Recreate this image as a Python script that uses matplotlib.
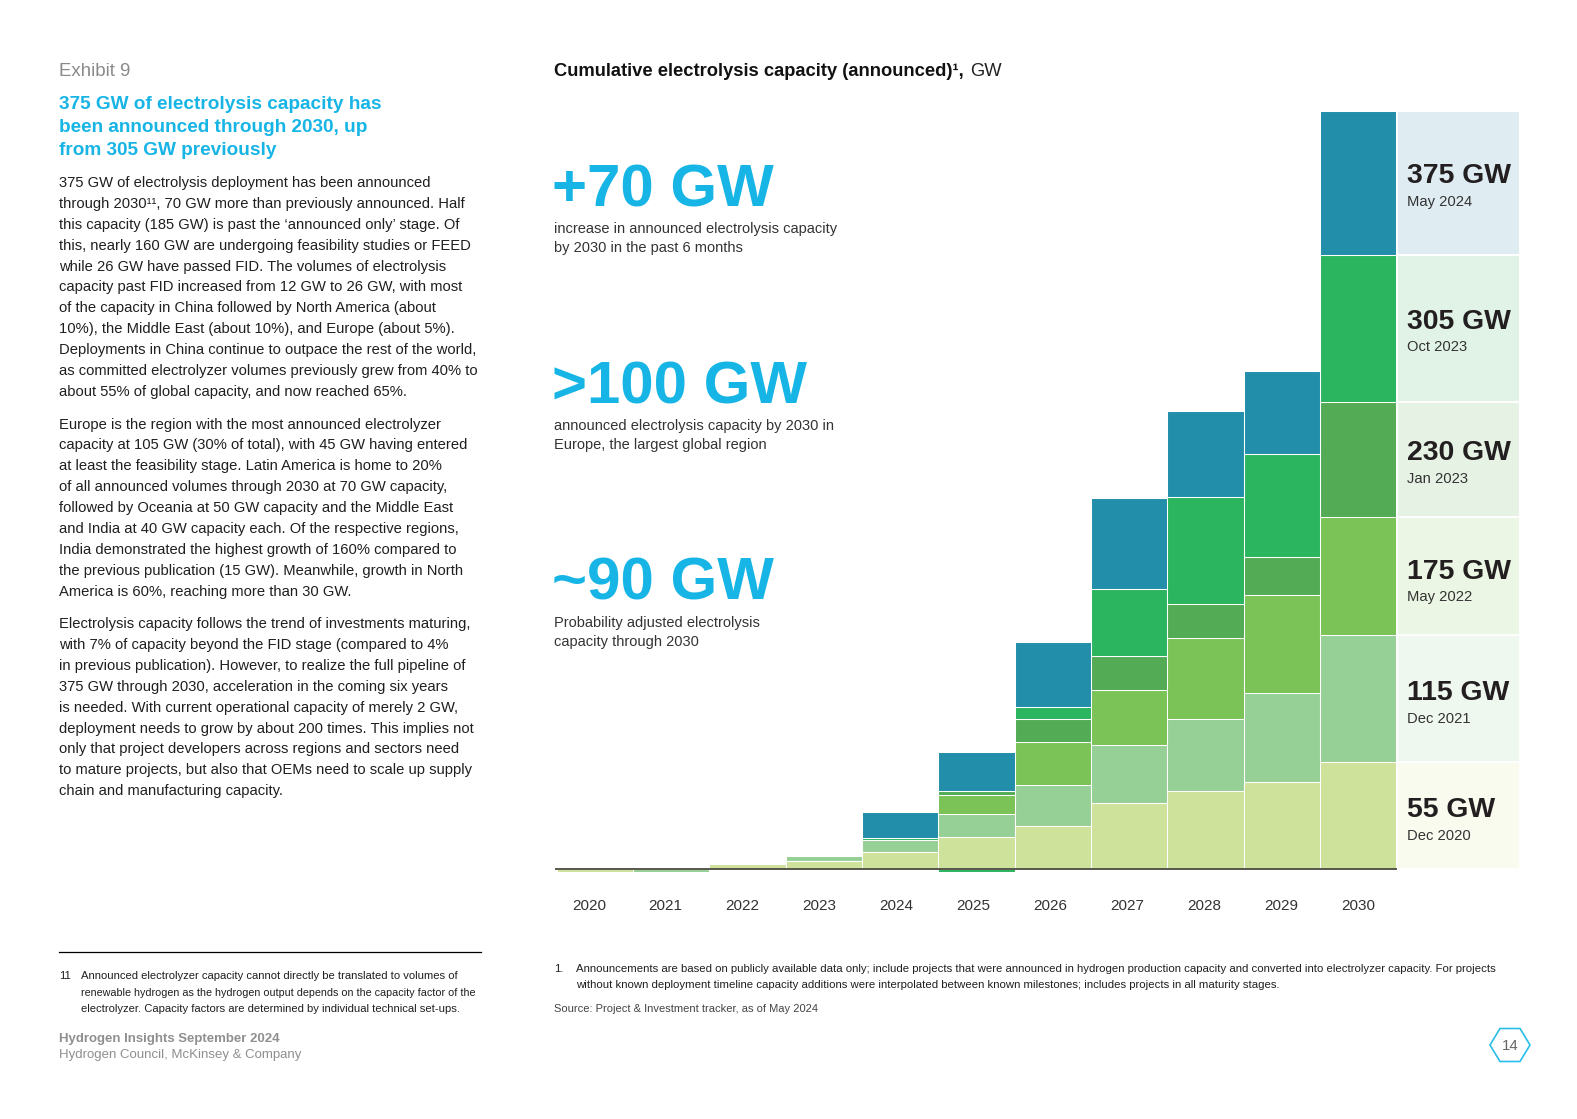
import numpy as np
import matplotlib
matplotlib.use("Agg")
import matplotlib.pyplot as plt
from matplotlib.patches import Polygon

plt.rcParams["font.family"] = ["Liberation Sans", "DejaVu Sans"]

W, H = 1577, 1119

# chart data, GW per column
years = ["2020", "2021", "2022", "2023", "2024", "2025", "2026", "2027", "2028", "2029", "2030"]
dec_2020 = [-1.3, 0, 2.8, 4.3, 8.4, 15.8, 21.3, 32.6, 38.6, 43.0, 52.9]
dec_2021 = [0, -1.3, 0, 2.5, 5.9, 11.4, 20.2, 28.7, 35.6, 44.0, 62.8]
may_2022 = [0, 0, 0, 0, 0, 9.7, 21.3, 27.2, 40.0, 48.5, 58.4]
jan_2023 = [0, 0, 0, 0, 0, 1.7, 11.4, 16.8, 16.9, 18.8, 56.9]
oct_2023 = [0, 0, 0, 0, 1.3, -1.3, 5.9, 33.2, 52.9, 50.9, 72.8]
may_2024 = [0, 0, 0, 0, 12.9, 19.6, 32.3, 45.3, 42.7, 41.2, 71.2]
series = [dec_2020, dec_2021, may_2022, jan_2023, oct_2023, may_2024]
bar_colors = ["#CFE29C", "#97D096", "#7BC257", "#53AB56", "#2CB55F", "#238EA9"]
panel_colors = ["#F8FBEE", "#EFF8EE", "#ECF6E4", "#E5F2E4", "#E0F3E6", "#DFEDF3"]

panel_totals = ["55 GW", "115 GW", "175 GW", "230 GW", "305 GW", "375 GW"]
panel_dates = ["Dec 2020", "Dec 2021", "May 2022", "Jan 2023", "Oct 2023", "May 2024"]
panel_total_y = [817.4, 699.6, 578.8, 460, 328.7, 182.7]
panel_date_y = [839.6, 722.8, 601, 483, 350.7, 205.7]

callouts = ["+70 GW", ">100 GW", "~90 GW"]
callout_notes = [
    ["increase in announced electrolysis capacity", "by 2030 in the past 6 months"],
    ["announced electrolysis capacity by 2030 in", "Europe, the largest global region"],
    ["Probability adjusted electrolysis", "capacity through 2030"],
]
callout_y = [206.7, 403.3, 600]
note_y = [232.7, 429.6, 626.9]

heading = [
    "375 GW of electrolysis capacity has",
    "been announced through 2030, up",
    "from 305 GW previously",
]
para_1 = [
    "375 GW of electrolysis deployment has been announced",
    "through 2030¹¹, 70 GW more than previously announced. Half",
    "this capacity (185 GW) is past the ‘announced only’ stage. Of",
    "this, nearly 160 GW are undergoing feasibility studies or FEED",
    "while 26 GW have passed FID. The volumes of electrolysis",
    "capacity past FID increased from 12 GW to 26 GW, with most",
    "of the capacity in China followed by North America (about",
    "10%), the Middle East (about 10%), and Europe (about 5%).",
    "Deployments in China continue to outpace the rest of the world,",
    "as committed electrolyzer volumes previously grew from 40% to",
    "about 55% of global capacity, and now reached 65%.",
]
para_2 = [
    "Europe is the region with the most announced electrolyzer",
    "capacity at 105 GW (30% of total), with 45 GW having entered",
    "at least the feasibility stage. Latin America is home to 20%",
    "of all announced volumes through 2030 at 70 GW capacity,",
    "followed by Oceania at 50 GW capacity and the Middle East",
    "and India at 40 GW capacity each. Of the respective regions,",
    "India demonstrated the highest growth of 160% compared to",
    "the previous publication (15 GW). Meanwhile, growth in North",
    "America is 60%, reaching more than 30 GW.",
]
para_3 = [
    "Electrolysis capacity follows the trend of investments maturing,",
    "with 7% of capacity beyond the FID stage (compared to 4%",
    "in previous publication). However, to realize the full pipeline of",
    "375 GW through 2030, acceleration in the coming six years",
    "is needed. With current operational capacity of merely 2 GW,",
    "deployment needs to grow by about 200 times. This implies not",
    "only that project developers across regions and sectors need",
    "to mature projects, but also that OEMs need to scale up supply",
    "chain and manufacturing capacity.",
]
note_left = [
    "Announced electrolyzer capacity cannot directly be translated to volumes of",
    "renewable hydrogen as the hydrogen output depends on the capacity factor of the",
    "electrolyzer. Capacity factors are determined by individual technical set-ups.",
]
note_left_px = [11.3, 10.75, 11.3]
note_right = [
    "Announcements are based on publicly available data only; include projects that were announced in hydrogen production capacity and converted into electrolyzer capacity. For projects",
    "without known deployment timeline capacity additions were interpolated between known milestones; includes projects in all maturity stages.",
]


def pt(px):
    # font sizes below are given in pixels at 100 dpi
    return px * 0.72


fig = plt.figure(figsize=(W / 100, H / 100), dpi=100, facecolor="white")

# page layer in pixel coordinates
page = fig.add_axes([0, 0, 1, 1])
page.set_xlim(0, W)
page.set_ylim(H, 0)
page.axis("off")


def put(x, y, s, px, color="#1f1f1f", weight="normal", ha="left"):
    page.text(x, y, s, fontsize=pt(px), color=color, fontweight=weight, ha=ha, va="baseline")


BLUE = "#17B5E6"
put(59, 75.7, "Exhibit 9", 18.7, "#8A8A8A")
for i, line in enumerate(heading):
    put(59, 109 + 23 * i, line, 19, BLUE, "bold")
for lines, y0 in [(para_1, 187), (para_2, 428.6), (para_3, 628)]:
    for i, line in enumerate(lines):
        put(59, y0 + 20.9 * i, line, 14.75)

put(554, 76, "Cumulative electrolysis capacity (announced)¹,", 18.35, "#111111", "bold")
put(970, 76, "GW", 18.35, "#222222")

for k, label in enumerate(callouts):
    put(552, callout_y[k], label, 60, BLUE, "bold")
    for i, line in enumerate(callout_notes[k]):
        put(554, note_y[k] + 19 * i, line, 14.6, "#333333")

page.plot([59, 481], [952.3, 952.3], color="black", lw=0.9)
put(59, 979, "11", 11.3)
for i, line in enumerate(note_left):
    put(80.7, 979 + 16.5 * i, line, note_left_px[i])
put(59, 1041.7, "Hydrogen Insights September 2024", 13.2, "#8F8F8F", "bold")
put(59, 1057.7, "Hydrogen Council, McKinsey & Company", 13.2, "#8F8F8F")

put(554, 972, "1.", 11.3)
for i, line in enumerate(note_right):
    put(575.7, 972 + 16 * i, line, 11.36)
put(554, 1012, "Source: Project & Investment tracker, as of May 2024", 11.1, "#444444")

page.add_patch(Polygon([(1490, 1045), (1500, 1028.5), (1520, 1028.5), (1530, 1045), (1520, 1061.5), (1500, 1061.5)],
                       closed=True, fill=False, edgecolor="#29BDE9", lw=1.2))
put(1510, 1050.5, "14", 15, "#666666", ha="center")

# chart layer, scaled so bars land on the same pixels as the reference
left_px, right_px = 556.7, 1520
top_px, bottom_px = 105, 880
base_px, px_per_gw = 869.3, 2.022
step = 76.33
ax = fig.add_axes([left_px / W, 1 - bottom_px / H, (right_px - left_px) / W, (bottom_px - top_px) / H])
ax.patch.set_alpha(0)
ax.set_xlim(-0.5, (right_px - left_px) / step - 0.5)
ax.set_ylim((base_px - bottom_px) / px_per_gw, (base_px - top_px) / px_per_gw)
for side in ax.spines.values():
    side.set_visible(False)
ax.set_yticks([])

x = np.arange(len(years))
pos_bottom = np.zeros(len(years))
for vals, color in zip(series, bar_colors):
    vals = np.array(vals, dtype=float)
    keep = vals != 0
    bottoms = np.where(vals > 0, pos_bottom, 0)
    ax.bar(x[keep], vals[keep], width=1.0, bottom=bottoms[keep], color=color, edgecolor="white", linewidth=0.75)
    pos_bottom += np.clip(vals, 0, None)

# legend panels next to the 2030 column
panel_x = (1397.3 - left_px) / step - 0.5
panel_w = (right_px - 1397.3) / step
panel_bottom = 0.0
for s, color in zip(series, panel_colors):
    ax.bar(panel_x, s[-1], width=panel_w, bottom=panel_bottom, align="edge", color=color, edgecolor="white", linewidth=1.4)
    panel_bottom += s[-1]

ax.hlines(0, -0.522, panel_x, color="#4A4A40", lw=1.3, zorder=5, clip_on=False)

ax.set_xticks(x * 1.0083 - 0.08)
ax.set_xticklabels(years, fontsize=pt(15.2), color="#333333")
ax.tick_params(axis="x", length=0, pad=14)

for total, date, y1, y2 in zip(panel_totals, panel_dates, panel_total_y, panel_date_y):
    page.text(1406.7, y1, total, fontsize=pt(28.4), fontweight="bold", color="#231F20", va="baseline", zorder=10)
    page.text(1406.7, y2, date, fontsize=pt(14.8), color="#333333", va="baseline", zorder=10)
page.set_zorder(ax.get_zorder() + 1)
page.patch.set_alpha(0)

fig.savefig("out.png", dpi=100)
